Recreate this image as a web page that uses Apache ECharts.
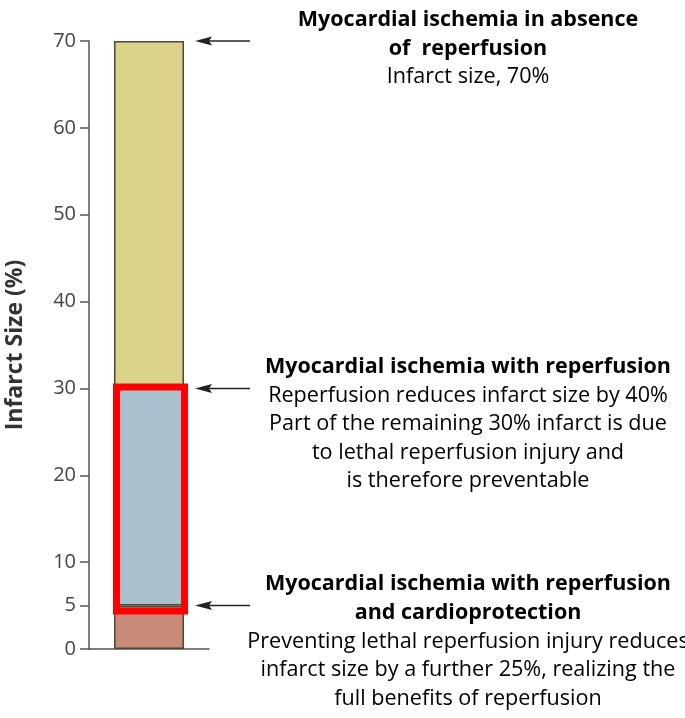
<!DOCTYPE html>
<html>
<head>
<meta charset="utf-8">
<script src="https://cdn.jsdelivr.net/npm/echarts@6/dist/echarts.min.js"></script>
<style>
html, body { margin: 0; padding: 0; background: #fff; }
#chart { width: 685px; height: 718px; }
</style>
</head>
<body>
<div id="chart"></div>
<script>
// one bar, stacked in three parts (infarct size %)
const categories = ['']
const withCardioprotection = [5]
const reperfusionInjury = [25]
const withoutReperfusion = [40]
const yTicks = [0, 5, 10, 20, 30, 40, 50, 60, 70]
// red highlight box: from / to (infarct size %)
const highlight = [[0, 5, 30]]

// arrows point at these values, each with a note
const arrowValues = [70, 30, 5]
const noteTitles = [
  ['Myocardial ischemia in absence', 'of  reperfusion'],
  ['Myocardial ischemia with reperfusion'],
  ['Myocardial ischemia with reperfusion', 'and cardioprotection']
]
const noteBodies = [
  ['Infarct size, 70%'],
  ['Reperfusion reduces infarct size by 40%', 'Part of the remaining 30% infarct is due', 'to lethal reperfusion injury and', 'is therefore preventable'],
  ['Preventing lethal reperfusion injury reduces', 'infarct size by a further 25%, realizing the', 'full benefits of reperfusion']
]

const font = '"Open Sans", Lato, sans-serif'
const axisColor = '#555'
const edge = '#4b4838'

const chart = echarts.init(document.getElementById('chart'))

chart.setOption({
  animation: false,
  grid: { left: 89, top: 41, width: 120, height: 608 },
  xAxis: {
    type: 'category',
    data: categories,
    axisLine: { lineStyle: { color: axisColor, width: 1.5 } },
    axisTick: { show: false },
    axisLabel: { show: false }
  },
  yAxis: {
    type: 'value',
    min: 0,
    max: 70,
    name: 'Infarct Size (%)',
    nameLocation: 'middle',
    nameGap: 62,
    nameTextStyle: { fontFamily: font, fontSize: 23, fontWeight: 'bold', color: '#333' },
    axisLine: { show: true, lineStyle: { color: axisColor, width: 1.5 } },
    axisTick: { show: true, length: 9, customValues: yTicks, lineStyle: { color: axisColor, width: 1.5 } },
    axisLabel: { customValues: yTicks, margin: 13, fontFamily: font, fontSize: 20, color: '#444' },
    splitLine: { show: false }
  },
  series: [
    {
      type: 'bar',
      stack: 'infarct',
      barWidth: 70,
      data: withCardioprotection,
      itemStyle: { color: '#c98b78', borderColor: edge, borderWidth: 1.5 }
    },
    {
      type: 'bar',
      stack: 'infarct',
      data: reperfusionInjury,
      itemStyle: { color: '#a9c0cd', borderColor: edge, borderWidth: 1.5 }
    },
    {
      type: 'bar',
      stack: 'infarct',
      data: withoutReperfusion,
      itemStyle: { color: '#dbd38c', borderColor: edge, borderWidth: 1.5 }
    },
    {
      type: 'custom',
      z: 5,
      data: highlight,
      renderItem: (params, api) => {
        const top = api.coord([api.value(0), api.value(2)])
        const bottom = api.coord([api.value(0), api.value(1)])
        return {
          type: 'rect',
          shape: { x: top[0] - 32.5, y: top[1] - 1.5, width: 68, height: bottom[1] - top[1] + 7 },
          style: { fill: 'none', stroke: '#ff0000', lineWidth: 7 }
        }
      }
    }
  ]
})

// arrows and notes placed from the axis scale
const graphics = []
arrowValues.forEach((v, i) => {
  const y = chart.convertToPixel({ yAxisIndex: 0 }, v)
  graphics.push({
    type: 'line',
    shape: { x1: 205, y1: y, x2: 250, y2: y },
    style: { stroke: '#222', lineWidth: 1.5 }
  })
  graphics.push({
    type: 'polygon',
    shape: { points: [[195, y], [212, y - 4.5], [209, y], [212, y + 4.5]] },
    style: { fill: '#222' }
  })
  const lines = noteTitles[i].map(t => '{b|' + t + '}')
    .concat(noteBodies[i].map(t => '{r|' + t + '}'))
  graphics.push({
    type: 'text',
    x: 468,
    y: y - 21.5 - 14.5,
    style: {
      text: lines.join('\n'),
      align: 'center',
      verticalAlign: 'top',
      rich: {
        b: { fontFamily: font, fontSize: 21.5, fontWeight: 'bold', color: '#303030', lineHeight: 29, align: 'center' },
        r: { fontFamily: font, fontSize: 21.6, color: '#474747', lineHeight: 28.5, align: 'center' }
      }
    }
  })
})
chart.setOption({ graphic: graphics })
</script>
</body>
</html>
